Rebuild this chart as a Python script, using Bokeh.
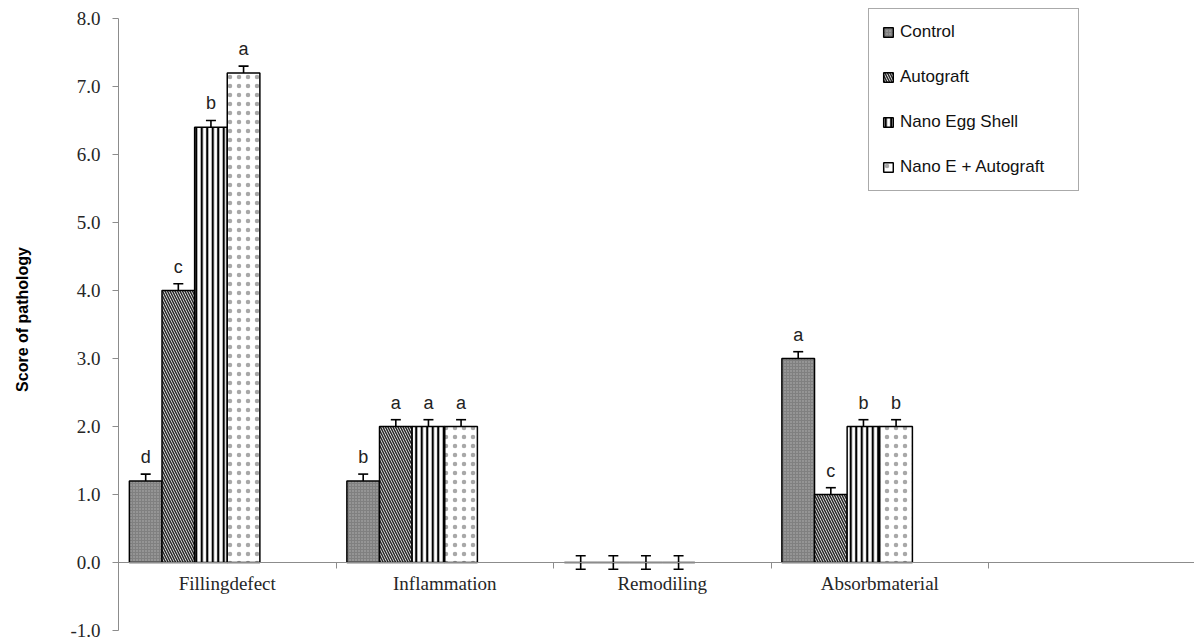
from bokeh.plotting import figure
from bokeh.models import (ColumnDataSource, Range1d, FixedTicker,
                          NumeralTickFormatter, Whisker, TeeHead, Legend, LegendItem)
from bokeh.core.properties import value
from bokeh.embed import file_html
from bokeh.resources import INLINE

# ---------------- data ----------------
categories = ["Fillingdefect", "Inflammation", "Remodiling", "Absorbmaterial"]
series = ["Control", "Autograft", "Nano Egg Shell", "Nano E + Autograft"]
control = [1.2, 1.2, 0.0, 3.0]
autograft = [4.0, 2.0, 0.0, 1.0]
nano_egg = [6.4, 2.0, 0.0, 2.0]
nano_e_auto = [7.2, 2.0, 0.0, 2.0]
errors_control = [0.1, 0.1, 0.1, 0.1]
errors_autograft = [0.1, 0.1, 0.1, 0.1]
errors_nano_egg = [0.1, 0.1, 0.1, 0.1]
errors_nano_e_auto = [0.1, 0.1, 0.1, 0.1]
letters_control = ["d", "b", "", "a"]
letters_autograft = ["c", "a", "", "c"]
letters_nano_egg = ["b", "a", "", "b"]
letters_nano_e_auto = ["a", "a", "", "b"]
y_ticks = [-1, 0, 1, 2, 3, 4, 5, 6, 7, 8]

values_all = [control, autograft, nano_egg, nano_e_auto]
errors_all = [errors_control, errors_autograft, errors_nano_egg, errors_nano_e_auto]
letters_all = [letters_control, letters_autograft, letters_nano_egg, letters_nano_e_auto]

# ---------------- styles ----------------
BAR_W = 0.15
offsets = [-0.375, -0.225, -0.075, 0.075]
styles = [
    dict(fill_color="#808080", hatch_pattern="dot", hatch_color="#b4b4b4", hatch_scale=3, hatch_weight=1),
    dict(fill_color="white", hatch_pattern="left_diagonal_line", hatch_color="#2a2a2a", hatch_scale=5, hatch_weight=1.6),
    dict(fill_color="white", hatch_pattern="vertical_line", hatch_color="black", hatch_scale=5.5, hatch_weight=2.2),
    dict(fill_color="white", hatch_pattern="dot", hatch_color="#a8a8a8", hatch_scale=9, hatch_weight=1),
]

p = figure(width=1194, height=640, output_backend="svg", toolbar_location=None,
           x_range=Range1d(0, 4.947), y_range=Range1d(-1, 8.147),
           min_border_left=118, min_border_right=0, min_border_top=8, min_border_bottom=10)
p.outline_line_color = None
p.xgrid.visible = False
p.ygrid.visible = False
p.background_fill_color = "white"

AX = "#8c8c8c"
SERIF = "Liberation Serif"
SANS = "Liberation Sans"

# y axis
ya = p.yaxis[0]
ya.ticker = FixedTicker(ticks=y_ticks)
ya.bounds = (-1, 8)
ya.formatter = NumeralTickFormatter(format="0.0")
ya.axis_line_color = AX
ya.major_tick_line_color = AX
ya.major_tick_out = 6
ya.major_tick_in = 0
ya.minor_tick_line_color = None
ya.major_label_text_font = SERIF
ya.major_label_text_font_size = "19px"
ya.major_label_text_color = "#262626"
ya.major_label_standoff = 12
ya.axis_label = "Score of pathology"
ya.axis_label_text_font = SANS
ya.axis_label_text_font_style = "bold"
ya.axis_label_text_font_size = "16px"
ya.axis_label_text_color = "black"
ya.axis_label_standoff = 36

# x axis at y = 0
xa = p.xaxis[0]
xa.fixed_location = 0
centers = [i + 0.5 for i in range(len(categories))]
xa.ticker = FixedTicker(ticks=centers, minor_ticks=[0, 1, 2, 3, 4, 5])
xa.major_label_overrides = {c: name for c, name in zip(centers, categories)}
xa.axis_line_color = AX
xa.axis_line_width = 1.2
xa.major_tick_line_color = None
xa.major_tick_out = 6
xa.minor_tick_line_color = AX
xa.minor_tick_out = 6
xa.minor_tick_in = 0
xa.major_label_text_font = SERIF
xa.major_label_text_font_size = "19px"
xa.major_label_text_color = "#262626"
xa.major_label_standoff = 5

items = []
for i, name in enumerate(series):
    xs = [c + offsets[i] for c in centers]
    vals = values_all[i]
    errs = errors_all[i]
    src = ColumnDataSource(dict(
        x=xs, top=vals,
        upper=[v + e for v, e in zip(vals, errs)],
        lower=[v - e for v, e in zip(vals, errs)],
        lab=letters_all[i],
    ))
    r = p.vbar(x="x", top="top", bottom=0, width=BAR_W, source=src,
               line_color="black", line_width=1.5, **styles[i])
    items.append(LegendItem(label=name, renderers=[r]))
    w = Whisker(base="x", upper="upper", lower="lower", source=src, dimension="height",
                line_color="black", line_width=1.6,
                upper_head=TeeHead(size=10, line_color="black", line_width=1.6),
                lower_head=TeeHead(size=10, line_color="black", line_width=1.6))
    p.add_layout(w)
    p.text(x="x", y="upper", text="lab", source=src, text_align="center",
           text_baseline="bottom", y_offset=-7, text_font=value(SANS),
           text_font_size="18px", text_color="#222222")

legend = Legend(items=items, location=(750, 439), orientation="vertical",
                border_line_color="#555555", border_line_width=1.2,
                background_fill_color="white", background_fill_alpha=1,
                padding=13, margin=0, spacing=25, label_height=20,
                label_width=165, glyph_width=12, glyph_height=12, label_standoff=6,
                label_text_font=SANS, label_text_font_size="17px", label_text_color="#111111")
p.add_layout(legend, "center")

open("out.html", "w").write(file_html(p, INLINE))
